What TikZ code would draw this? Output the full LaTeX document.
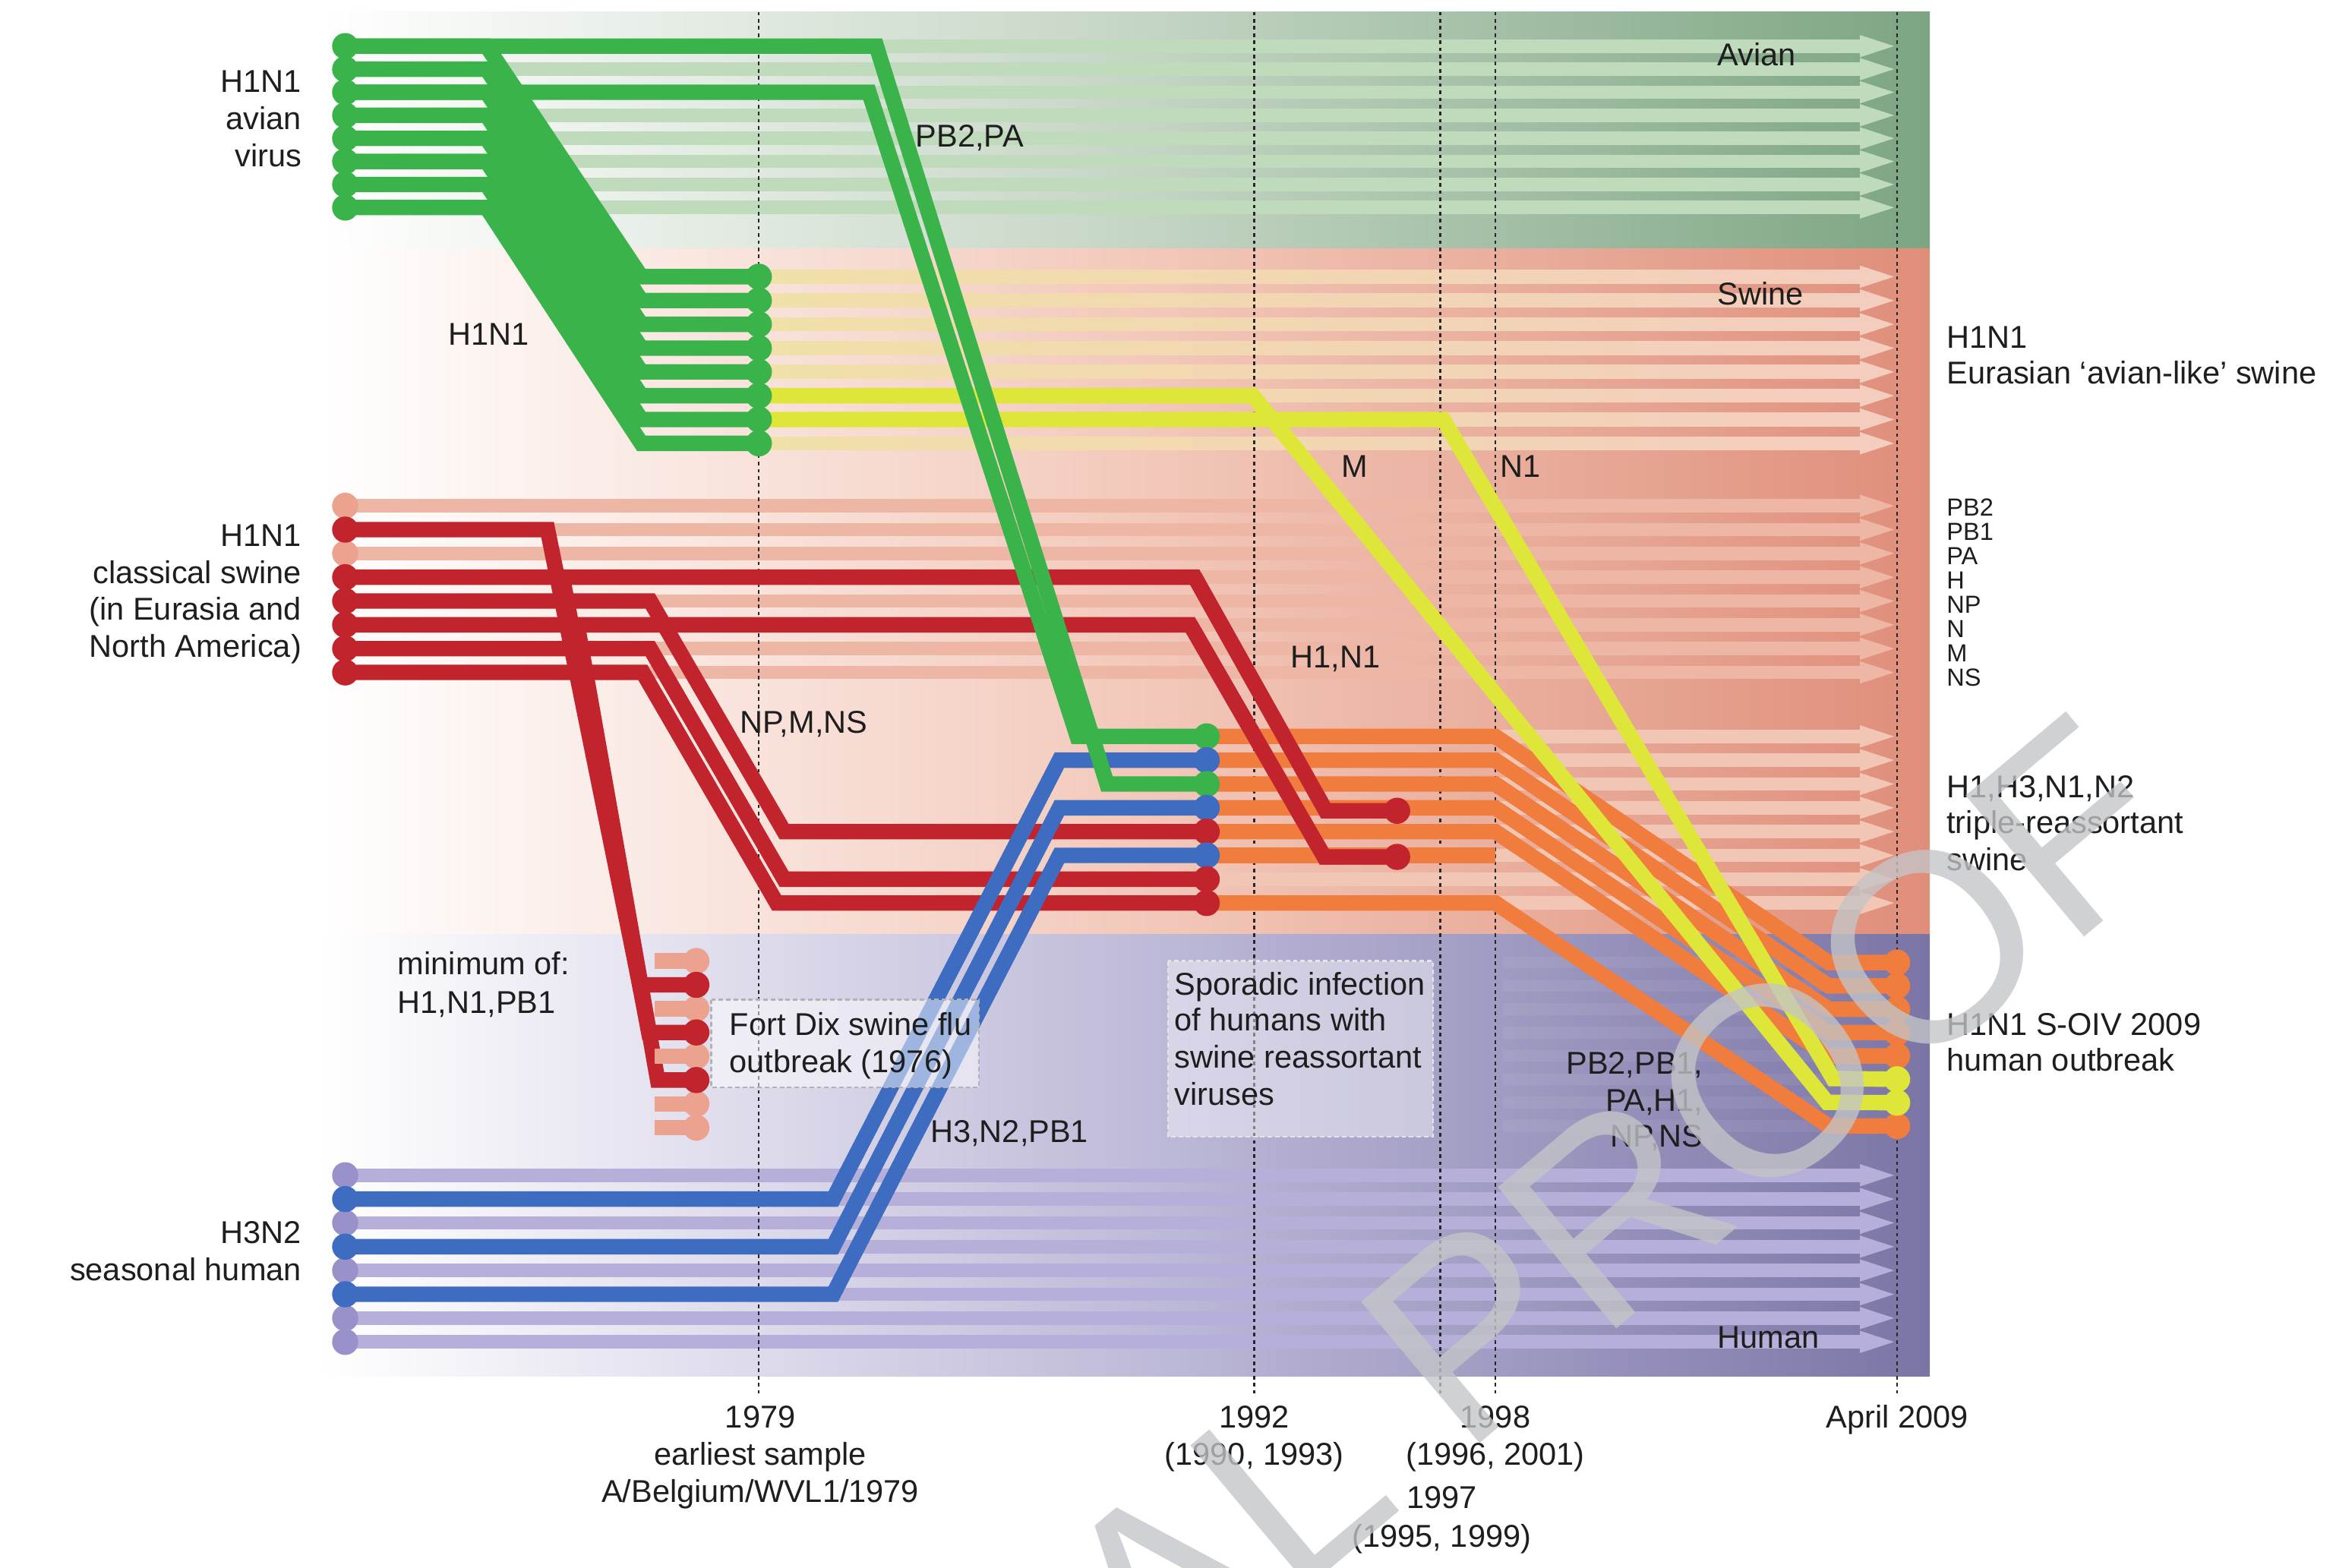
\documentclass[tikz,border=0pt]{standalone}
\usepackage{fontspec}
\setmainfont{Liberation Sans}
\definecolor{cgreen}{RGB}{58,180,74}
\definecolor{cred}{RGB}{193,36,44}
\definecolor{credfade}{RGB}{235,162,142}
\definecolor{cblue}{RGB}{62,108,192}
\definecolor{corange}{RGB}{240,124,62}
\definecolor{cyellow}{RGB}{222,230,58}
\definecolor{sgreen}{RGB}{192,219,188}
\definecolor{sred}{RGB}{238,182,165}
\definecolor{sorange}{RGB}{242,198,180}
\definecolor{syellow}{RGB}{241,224,168}
\definecolor{spink}{RGB}{243,205,190}
\definecolor{shum}{RGB}{181,175,217}
\definecolor{chum}{RGB}{153,146,202}
\definecolor{avR}{RGB}{124,165,131}
\definecolor{avM}{RGB}{198,214,197}
\definecolor{swR}{RGB}{223,142,122}
\definecolor{swM}{RGB}{243,202,188}
\definecolor{huR}{RGB}{123,117,166}
\definecolor{huM}{RGB}{192,188,218}
\definecolor{txt}{RGB}{30,30,30}
\definecolor{cwm}{RGB}{196,197,200}
\newcommand\lblfont{\fontsize{10.6pt}{12.5pt}\selectfont}
\newcommand\segfont{\fontsize{8.3pt}{8pt}\selectfont}
\newcommand\wmfont{\fontsize{90pt}{90pt}\selectfont}
\newcommand\mystripe[3]{%
  \fill[#1] ({#2},{#3-4.5}) rectangle (1250,{#3+4.5});
  \fill[#1] (1250,{#3-7.5}) -- (1273,{#3}) -- (1250,{#3+7.5}) -- cycle;}
\newcommand\mydot[2]{\fill[#1] (#2) circle[radius=4.4pt];}
\begin{document}
\begin{tikzpicture}[x=0.5pt,y=-0.5pt,
  lbl/.style={font=\lblfont, text=txt, inner sep=0pt},
  seg/.style={font=\segfont, text=txt, inner sep=0pt},
  ln/.style={line width=5.2pt},
  vline/.style={line width=0.6pt, dash pattern=on 1.2pt off 1.2pt, draw=black!85}]
\useasboundingbox (0,0) rectangle (1568,1054);
\fill[white] (0,0) rectangle (1568,1054);
% ---------- bands
\shade[left color=white,right color=avR,middle color=avM] (215,8) rectangle (1297,167);
\shade[left color=white,right color=swR,middle color=swM] (215,167) rectangle (1297,628);
\shade[left color=white,right color=huR,middle color=huM] (215,628) rectangle (1297,925);
% ---------- named points
\foreach \i in {0,...,7}{
  \coordinate (a\i) at (232,{31+15.5*\i});
  \coordinate (e\i) at (510,{186+16*\i});
  \coordinate (c\i) at (232,{340+16*\i});
  \coordinate (h\i) at (232,{790+16*\i});
  \coordinate (t\i) at (811,{495+16*\i});
  \coordinate (f\i) at (468,{646+16*\i});
  \coordinate (o\i) at (1275,{647+15.7*\i});
}
\coordinate (r1) at (939,545);
\coordinate (r2) at (939,576);
\coordinate (b3) at (378,388);
\coordinate (b5) at (388,420);
% ---------- light stripes with arrow heads
\foreach \i in {0,...,7}{
  \mystripe{sgreen}{232}{31+15.5*\i}
  \shade[left color=syellow,right color=spink] (510,{186+16*\i-4.5}) rectangle (1250,{186+16*\i+4.5});
  \fill[spink] (1250,{186+16*\i-7.5}) -- (1273,{186+16*\i}) -- (1250,{186+16*\i+7.5}) -- cycle;
  \mystripe{sred}{232}{340+16*\i}
  \mystripe{sorange}{811}{495+16*\i}
  \mystripe{shum}{232}{790+16*\i}
  \fill[white, opacity=0.06] (1010,{647+15.7*\i-4}) rectangle (1262,{647+15.7*\i+4});
}
% ---------- dotted time lines
\foreach \x in {510,843,968,1005,1275} \draw[vline] (\x,8) -- (\x,938);
% ---------- red (classical swine)
\draw[ln,cred] (c1) -- (368,356) -- (430,662) -- (f1);
\draw[ln,cred] (b3) -- (436,694) -- (f3);
\draw[ln,cred] (b5) -- (442,726) -- (f5);
\draw[ln,cred] (c3) -- (803,388) -- (891,545) -- (r1);
\draw[ln,cred] (c5) -- (800,420) -- (890,576) -- (r2);
\draw[ln,cred] (c4) -- (437,404) -- (527,559) -- (t4);
\draw[ln,cred] (c6) -- (437,436) -- (527,591) -- (t6);
\draw[ln,cred] (c7) -- (432,452) -- (522,607) -- (t7);
\foreach \n in {0,2,4,6,7}{
  \draw[ln,credfade] (440,{646+16*\n}) -- (f\n);
  \mydot{credfade}{f\n}
}
% ---------- blue (human)
\draw[ln,cblue] (h1) -- (560,806) -- (712,511) -- (t1);
\draw[ln,cblue] (h3) -- (560,838) -- (712,543) -- (t3);
\draw[ln,cblue] (h5) -- (560,870) -- (712,575) -- (t5);
% ---------- orange (triple reassortant)
\foreach \m in {0,1,2,3,4,7}
  \draw[ln,corange] (t\m) -- (1005,{495+16*\m}) -- (1229,{647+15.7*\m}) -- (o\m);
\draw[ln,corange] (t5) -- (1005,575);
% red H1,N1 over orange
\draw[ln,cred] (803,388) -- (891,545) -- (r1);
\draw[ln,cred] (800,420) -- (890,576) -- (r2);
% ---------- yellow (Eurasian swine)
\draw[ln,cyellow] (e5) -- (842,266) -- (1228,741) -- (o6);
\draw[ln,cyellow] (e6) -- (970,282) -- (1232,725) -- (o5);
% ---------- green (avian)
\foreach \i in {0,...,7}
  \draw[ln,cgreen] (a\i) -- (327,{31+15.5*\i}) -- (431,{186+16*\i}) -- (e\i);
\draw[ln,cgreen] (a0) -- (589,31) -- (744,527) -- (t2);
\draw[ln,cgreen] (a2) -- (584,62) -- (724,495) -- (t0);
% ---------- dots
\foreach \i in {0,...,7}{ \mydot{cgreen}{a\i} \mydot{cgreen}{e\i} }
\foreach \i in {0,2}{ \mydot{credfade}{c\i} }
\foreach \i in {1,3,4,5,6,7}{ \mydot{cred}{c\i} }
\foreach \i in {0,2,4,6,7}{ \mydot{chum}{h\i} }
\foreach \i in {1,3,5}{ \mydot{cblue}{h\i} }
\mydot{cgreen}{t0} \mydot{cblue}{t1} \mydot{cgreen}{t2} \mydot{cblue}{t3}
\mydot{cred}{t4} \mydot{cblue}{t5} \mydot{cred}{t6} \mydot{cred}{t7}
\mydot{cred}{f1} \mydot{cred}{f3} \mydot{cred}{f5}
\mydot{cred}{r1} \mydot{cred}{r2}
\foreach \i in {0,1,2,3,4,7}{ \mydot{corange}{o\i} }
\mydot{cyellow}{o5} \mydot{cyellow}{o6}
% ---------- boxes
\draw[fill=white, fill opacity=0.5, draw=gray!60, dash pattern=on 1.5pt off 1pt, line width=0.6pt] (478,672) rectangle (658,731);
\draw[fill=white, fill opacity=0.42, draw=white!80!gray, dash pattern=on 1.5pt off 1pt, line width=0.6pt] (785,646) rectangle (963,764);
% ---------- left labels
\node[lbl,anchor=base east] (l1a) at (203,62) {H1N1};
\node[lbl,anchor=base east] (l1b) at (203,87) {avian};
\node[lbl,anchor=base east] (l1c) at (203,112) {virus};
\node[lbl,anchor=base east] (l2a) at (203,367) {H1N1};
\node[lbl,anchor=base east] (l2b) at (203,392) {classical swine};
\node[lbl,anchor=base east] (l2c) at (203,417) {(in Eurasia and};
\node[lbl,anchor=base east] (l2d) at (203,442) {North America)};
\node[lbl,anchor=base east] (l3a) at (203,836) {H3N2};
\node[lbl,anchor=base east] (l3b) at (203,861) {seasonal human};
% ---------- right labels
\node[lbl,anchor=base west] (r1a) at (1308,234) {H1N1};
\node[lbl,anchor=base west] (r1b) at (1308,258) {Eurasian ‘avian-like’ swine};
\foreach \s [count=\k from 0] in {PB2,PB1,PA,H,NP,N,M,NS}
  \node[seg,anchor=base west] (sg\k) at (1308,{347+16.3*\k}) {\s};
\node[lbl,anchor=base west] (r2a) at (1308,536) {H1,H3,N1,N2};
\node[lbl,anchor=base west] (r2b) at (1308,560) {triple-reassortant};
\node[lbl,anchor=base west] (r2c) at (1308,585) {swine};
\node[lbl,anchor=base west] (r3a) at (1308,696) {H1N1 S-OIV 2009};
\node[lbl,anchor=base west] (r3b) at (1308,720) {human outbreak};
% ---------- in-plot labels
\node[lbl,anchor=base west] (avianlbl) at (1154,44) {Avian};
\node[lbl,anchor=base west] (swinelbl) at (1154,205) {Swine};
\node[lbl,anchor=base west] (humanlbl) at (1154,906) {Human};
\node[lbl,anchor=base west] (pb2pa) at (615,99) {PB2,PA};
\node[lbl,anchor=base west] (h1n1b) at (301,232) {H1N1};
\node[lbl,anchor=base west] (mlbl) at (901,321) {M};
\node[lbl,anchor=base west] (n1lbl) at (1008,321) {N1};
\node[lbl,anchor=base west] (h1n1c) at (867,449) {H1,N1};
\node[lbl,anchor=base west] (npmns) at (497,493) {NP,M,NS};
\node[lbl,anchor=base west] (min1) at (267,655) {minimum of:};
\node[lbl,anchor=base west] (min2) at (267,681) {H1,N1,PB1};
\node[lbl,anchor=base west] (fd1) at (490,696) {Fort Dix swine flu};
\node[lbl,anchor=base west] (fd2) at (490,721) {outbreak (1976)};
\node[lbl,anchor=base west] (h3lbl) at (625,768) {H3,N2,PB1};
\node[lbl,anchor=base west] (sp1) at (789,669) {Sporadic infection};
\node[lbl,anchor=base west] (sp2) at (789,693) {of humans with};
\node[lbl,anchor=base west] (sp3) at (789,718) {swine reassortant};
\node[lbl,anchor=base west] (sp4) at (789,743) {viruses};
\node[lbl,anchor=base east] (pp1) at (1145,722) {PB2,PB1,};
\node[lbl,anchor=base east] (pp2) at (1145,747) {PA,H1,};
\node[lbl,anchor=base east] (pp3) at (1145,771) {NP,NS};
% ---------- axis labels
\node[lbl,anchor=base] (x1) at (511,960) {1979};
\node[lbl,anchor=base] (x1b) at (511,985) {earliest sample};
\node[lbl,anchor=base] (x1c) at (511,1010) {A/Belgium/WVL1/1979};
\node[lbl,anchor=base] (x2) at (843,960) {1992};
\node[lbl,anchor=base] (x2b) at (843,985) {(1990, 1993)};
\node[lbl,anchor=base] (x3) at (1005,960) {1998};
\node[lbl,anchor=base] (x3b) at (1005,985) {(1996, 2001)};
\node[lbl,anchor=base] (x4) at (969,1014) {1997};
\node[lbl,anchor=base] (x4b) at (969,1040) {(1995, 1999)};
\node[lbl,anchor=base] (x5) at (1275,960) {April 2009};
% ---------- watermark
\begin{scope}
\clip (0,0) rectangle (1568,1054);
\node[rotate=40, anchor=base west, font=\wmfont, text=cwm, text opacity=0.78, inner sep=0pt] (wm) at (554,1340) {FINAL PROOF};
\end{scope}
\end{tikzpicture}
\end{document}
